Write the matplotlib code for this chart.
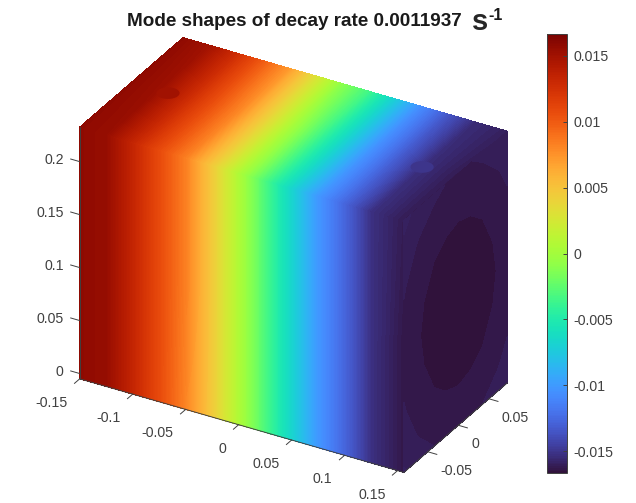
import numpy as np
import matplotlib
matplotlib.use("Agg")
import matplotlib.pyplot as plt
from matplotlib.colors import Normalize
from matplotlib.cm import ScalarMappable
from mpl_toolkits.mplot3d import proj3d
from mpl_toolkits.mplot3d.art3d import Poly3DCollection

plt.rcParams["font.family"] = ["Liberation Sans", "DejaVu Sans"]

# box limits
x_lim = (-0.15, 0.156)
y_lim = (-0.089, 0.08)
z_lim = (-0.005, 0.2326)
c_lim = (-0.01667, 0.01667)

x_ticks = [-0.15, -0.1, -0.05, 0, 0.05, 0.1, 0.15]
y_ticks = [-0.05, 0, 0.05]
z_ticks = [0, 0.05, 0.1, 0.15, 0.2]
c_ticks = [-0.015, -0.01, -0.005, 0, 0.005, 0.01, 0.015]

x_st = [-0.15, -0.125, -0.1, -0.075, -0.05, -0.025, 0, 0.025, 0.05, 0.075, 0.1, 0.125, 0.156]
front_z = [-0.005, 0.11, 0.2326]
front_vals = [
    [0.0158, 0.0155, 0.0133, 0.0108, 0.0081, 0.0045, 0.0005, -0.0032, -0.0068, -0.0102, -0.0128, -0.0153, -0.0164],
    [0.0158, 0.0155, 0.0133, 0.0108, 0.0083, 0.0045, 0.0005, -0.0032, -0.0068, -0.0102, -0.0128, -0.0153, -0.0164],
    [0.0158, 0.0155, 0.0133, 0.0108, 0.0083, 0.0045, 0.0005, -0.0032, -0.0068, -0.0102, -0.0128, -0.0153, -0.0162],
]
top_y = [-0.089, 0, 0.08]
top_vals = [
    [0.0158, 0.0155, 0.0133, 0.0108, 0.0083, 0.0045, 0.0005, -0.0032, -0.0068, -0.0102, -0.0128, -0.0153, -0.0162],
    [0.0158, 0.0153, 0.0131, 0.0105, 0.0079, 0.0040, 0.0000, -0.0034, -0.0070, -0.0105, -0.0132, -0.0154, -0.0162],
    [0.0158, 0.0150, 0.0128, 0.0100, 0.0072, 0.0030, -0.0010, -0.0035, -0.0072, -0.0108, -0.0135, -0.0155, -0.0160],
]
right_y = [-0.089, -0.065, -0.04, -0.02, 0, 0.02, 0.04, 0.065, 0.08]
right_z = [-0.005, 0.02, 0.05, 0.08, 0.11, 0.14, 0.17, 0.2, 0.2326]
right_vals = [
    [-0.01602, -0.01616, -0.01625, -0.01630, -0.01631, -0.01630, -0.01625, -0.01616, -0.01608],
    [-0.01614, -0.01627, -0.01636, -0.01641, -0.01642, -0.01641, -0.01636, -0.01627, -0.01619],
    [-0.01623, -0.01637, -0.01646, -0.01650, -0.01652, -0.01650, -0.01646, -0.01637, -0.01629],
    [-0.01629, -0.01643, -0.01652, -0.01656, -0.01658, -0.01656, -0.01652, -0.01643, -0.01635],
    [-0.01631, -0.01645, -0.01654, -0.01658, -0.01660, -0.01658, -0.01654, -0.01645, -0.01637],
    [-0.01629, -0.01643, -0.01652, -0.01656, -0.01658, -0.01656, -0.01652, -0.01643, -0.01635],
    [-0.01623, -0.01637, -0.01646, -0.01650, -0.01652, -0.01650, -0.01646, -0.01637, -0.01629],
    [-0.01614, -0.01627, -0.01636, -0.01641, -0.01642, -0.01641, -0.01636, -0.01627, -0.01619],
    [-0.01598, -0.01612, -0.01621, -0.01626, -0.01627, -0.01626, -0.01621, -0.01612, -0.01604],
]
# small round ports on the top face
hole_x = [-0.1153, 0.125]
hole_y = [-0.0048, -0.0056]
hole_vals = [0.0151, -0.0150]
hole_r = 0.0095

W, H = 636, 503
fig = plt.figure(figsize=(W / 100, H / 100), dpi=100)

side = 502
ax = fig.add_axes([(293.5 - 0.5135 * side) / W, (248 - 0.5135 * side) / H, side / W, side / H],
                  projection="3d", proj_type="ortho", computed_zorder=False)
ax.view_init(elev=30, azim=-60)
ax.set_axis_off()

norm = Normalize(*c_lim)
levels = np.linspace(c_lim[0], c_lim[1], 257)
levels_right = np.linspace(c_lim[0], c_lim[1], 161)

# with zdir the value goes in the slot of that axis
X, Z = np.meshgrid(x_st, front_z)
ax.contourf(X, np.array(front_vals), Z, levels=levels, cmap="turbo", norm=norm, zdir="y", offset=y_lim[0])
X, Y = np.meshgrid(x_st, top_y)
ax.contourf(X, Y, np.array(top_vals), levels=levels, cmap="turbo", norm=norm, zdir="z", offset=z_lim[1])
Y, Z = np.meshgrid(right_y, right_z)
ax.contourf(np.array(right_vals), Y, Z, levels=levels_right, cmap="turbo", norm=norm, zdir="x", offset=x_lim[1])

ax.set_box_aspect((x_lim[1] - x_lim[0], y_lim[1] - y_lim[0], z_lim[1] - z_lim[0]))
ax.set_xlim(*x_lim, view_margin=0)
ax.set_ylim(*y_lim, view_margin=0)
ax.set_zlim(*z_lim, view_margin=0)

t = np.linspace(0, 2 * np.pi, 40)
for hx, hy, hv in zip(hole_x, hole_y, hole_vals):
    verts = [list(zip(hx + hole_r * np.cos(t), hy + hole_r * np.sin(t), np.full_like(t, z_lim[1])))]
    ax.add_collection3d(Poly3DCollection(verts, facecolors=plt.cm.turbo(norm(hv)), edgecolors="none"))

ink = "#404040"
ax.plot(x_lim, [y_lim[0]] * 2, [z_lim[0]] * 2, color=ink, lw=0.7)
ax.plot([x_lim[1]] * 2, y_lim, [z_lim[0]] * 2, color=ink, lw=0.7)
ax.plot([x_lim[0]] * 2, [y_lim[0]] * 2, z_lim, color=ink, lw=0.7)

tick_x = 0.0085
tick_y = 0.0085
tick_z = 0.0085
for v in x_ticks:
    ax.plot([v, v], [y_lim[0], y_lim[0] - tick_y], [z_lim[0]] * 2, color=ink, lw=0.7)
for v in y_ticks:
    ax.plot([x_lim[1], x_lim[1] + tick_x], [v, v], [z_lim[0]] * 2, color=ink, lw=0.7)
for v in z_ticks:
    ax.plot([x_lim[0], x_lim[0] - tick_z], [y_lim[0]] * 2, [v, v], color=ink, lw=0.7)


def fmt(v):
    return f"{v:g}"


def label(x, y, z, s, dx, dy, ha):
    px, py, _ = proj3d.proj_transform(x, y, z, ax.get_proj())
    ax.annotate(s, (px, py), xytext=(dx, dy), textcoords="offset pixels", ha=ha, va="center",
                fontsize=10.2, color=ink, annotation_clip=False)


for v in x_ticks:
    label(v, y_lim[0], z_lim[0], fmt(v), -12, -24, "right")
for v in y_ticks:
    label(x_lim[1], v, z_lim[0], fmt(v), 13, -19, "left")
for v in z_ticks:
    label(x_lim[0], y_lim[0], v, fmt(v), -16, 2, "right")

# colorbar
cax = fig.add_axes([547 / W, (H - 473) / H, 19.5 / W, 439 / H])
cb = fig.colorbar(ScalarMappable(norm=norm, cmap="turbo"), cax=cax, ticks=c_ticks)
cb.ax.set_yticklabels([fmt(v) for v in c_ticks])
cb.ax.tick_params(direction="in", length=3, width=0.7, color=ink, labelcolor=ink, labelsize=10.2, pad=5)
cb.outline.set_edgecolor(ink)
cb.outline.set_linewidth(0.7)

# title
fig.text(127 / W, (H - 21) / H, "Mode shapes of decay rate 0.0011937", fontsize=13.6, fontweight="bold",
         color="#1a1a1a", ha="left", va="center")
fig.text(472 / W, (H - 22) / H, "s", fontsize=21, color="#262626", ha="left", va="center", fontweight="bold")
fig.text(488 / W, (H - 15) / H, "-1", fontsize=11.5, color="#1a1a1a", ha="left", va="center", fontweight="bold")

fig.savefig("out.png", dpi=100)
